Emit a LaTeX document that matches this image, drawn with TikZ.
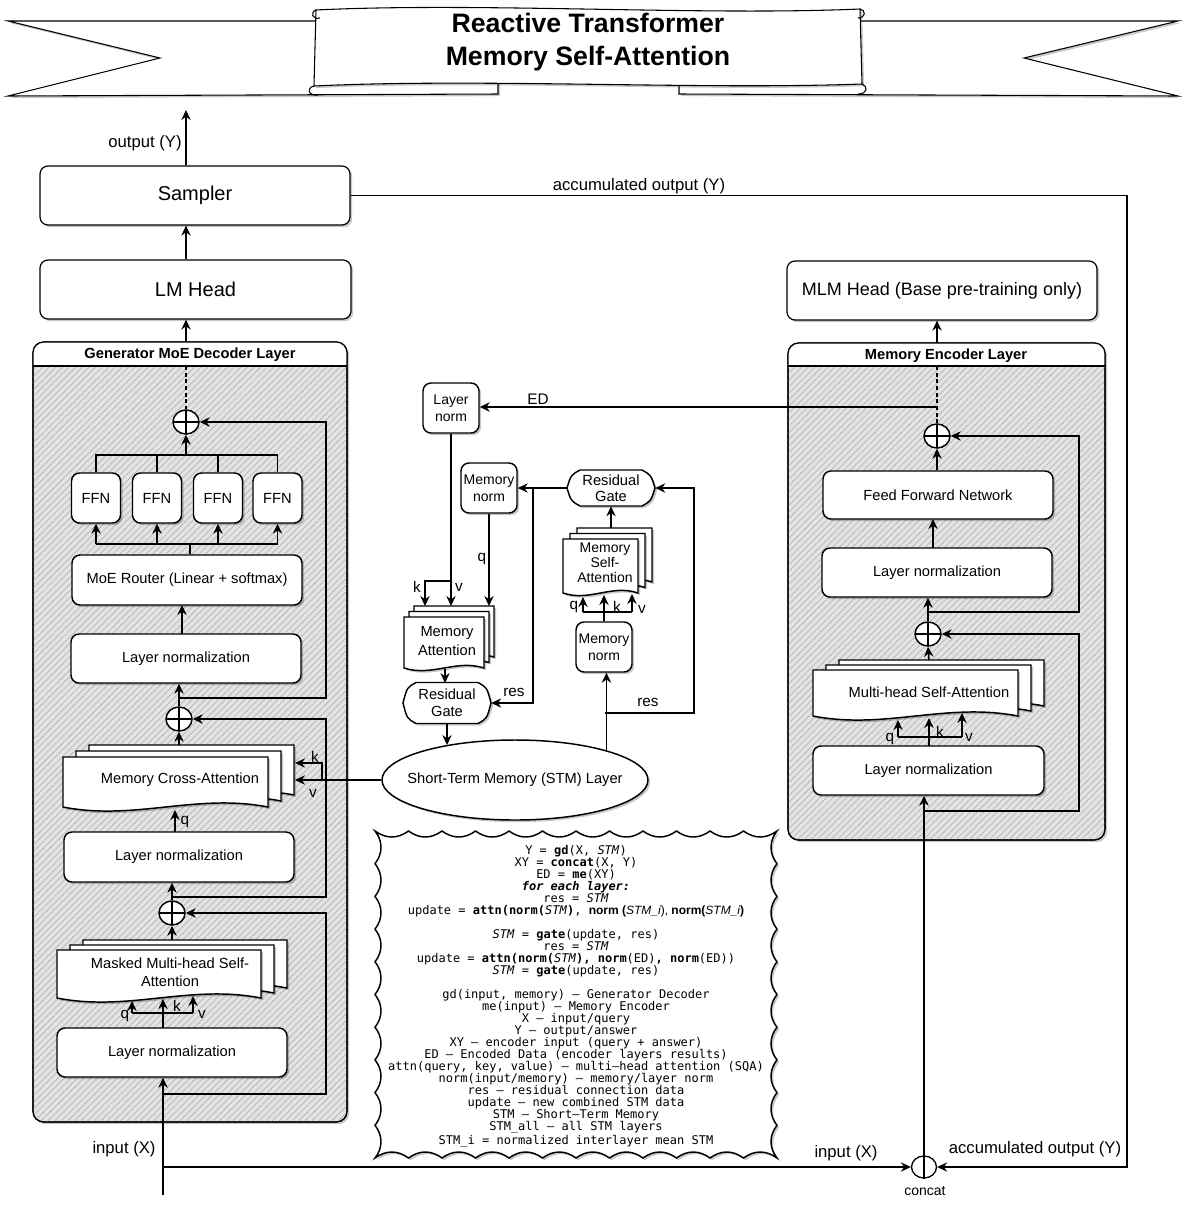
\documentclass[tikz,border=0pt]{standalone}
\usepackage{fontspec}
\setmainfont{Liberation Sans}
\setsansfont{Liberation Sans}
\setmonofont{DejaVu Sans Mono}
\usetikzlibrary{arrows.meta,calc,shapes.geometric,shadows,patterns.meta,decorations.pathmorphing}

\newcommand\docstack[7]{%
  \foreach \kk in {2,1,0}{%
    \filldraw[docst] ({#1+\kk*(#5)},{#2+\kk*(#6)}) -- ({#3+\kk*(#5)},{#2+\kk*(#6)}) -- ({#3+\kk*(#5)},{#4+\kk*(#6)})
      .. controls ({#1+0.65*(#3-#1)+\kk*(#5)},{#4+\kk*(#6)-#7}) and ({#1+0.35*(#3-#1)+\kk*(#5)},{#4+\kk*(#6)+#7}) .. ({#1+\kk*(#5)},{#4+\kk*(#6)}) -- cycle;
  }}
\newcommand\gatepath[4]{%
  \filldraw[docst] ({#1-#3},{#2}) .. controls ({#1-#3+4},{#2-#4+5}) .. ({#1-#3+13},{#2-#4}) -- ({#1+#3-13},{#2-#4}) .. controls ({#1+#3-4},{#2-#4+5}) .. ({#1+#3},{#2}) .. controls ({#1+#3-4},{#2+#4-5}) .. ({#1+#3-13},{#2+#4}) -- ({#1-#3+13},{#2+#4}) .. controls ({#1-#3+4},{#2+#4-5}) .. ({#1-#3},{#2}) -- cycle;}

\begin{document}
\begin{tikzpicture}[x=0.75pt,y=-0.75pt,
  lw/.style={line width=1.1pt},
  arr/.style={line width=1.1pt,-{Stealth[length=7.5pt,width=7pt,inset=2.5pt]}},
  thinarr/.style={line width=0.9pt,-{Stealth[length=7.5pt,width=7pt,inset=2.5pt]}},
  shd/.style={drop shadow={shadow xshift=1.6pt,shadow yshift=-1.6pt,opacity=0.22,fill=black}},
  wh/.style 2 args={minimum width=#1*0.75pt,minimum height=#2*0.75pt},
  blk/.style={draw,line width=1.1pt,fill=white,rounded corners=6pt,inner sep=0pt,align=center,font=\fontsize{11}{13.5}\selectfont,shd},
  bigblk/.style={blk,line width=0.9pt,font=\fontsize{15}{18}\selectfont},
  smallblk/.style={blk,font=\fontsize{10.5}{13}\selectfont},
  plus/.style={draw,ellipse,line width=1.1pt,fill=white,inner sep=0pt,minimum width=19.5pt,minimum height=18pt,
    path picture={\draw[line width=1.1pt] (path picture bounding box.north) -- (path picture bounding box.south) (path picture bounding box.west) -- (path picture bounding box.east);}},
  lbl/.style={font=\fontsize{11.5}{13}\selectfont,inner sep=1pt},
  olbl/.style={font=\fontsize{12.5}{14}\selectfont,inner sep=1pt},
  doctxt/.style={font=\fontsize{11}{13.5}\selectfont,align=center,inner sep=0pt},
  docst/.style={draw,line width=1.1pt,fill=white,shd},
  cont/.style={draw,line width=0.9pt,rounded corners=8pt,fill=gray!22,postaction={pattern color=gray!60,pattern={Lines[angle=45,distance=3.5pt,line width=0.5pt]}},shd},
  hdr/.style={font=\fontsize{11}{13}\selectfont\bfseries,inner sep=0pt},
]
\useasboundingbox (0,0) rectangle (1186,1215);

% ---------------- title ribbon
\begin{scope}[line width=0.8pt]
\filldraw[fill=white,shd] (8,21) -- (330,21) -- (330,81) -- (498,81) -- (498,94) -- (8,96) -- (160,58) -- cycle;
\filldraw[fill=white,shd] (1178,21) -- (856,21) -- (856,81) -- (679,81) -- (679,94) -- (1178,96) -- (1024,58) -- cycle;
\filldraw[fill=white,shd] (316,10) .. controls (480,2) and (700,16) .. (860,9) -- (862,84) .. controls (700,90) and (480,78) .. (314,86) -- cycle;
\draw (316,10) .. controls (310,12) and (312,20) .. (320,18);
\draw (860,9) .. controls (866,10) and (866,18) .. (858,18);
\draw (314,86) .. controls (306,88) and (308,96) .. (318,95);
\draw (862,84) .. controls (868,86) and (868,94) .. (858,94);
\end{scope}
\node[font=\fontsize{20}{24.75}\selectfont\bfseries,align=center] (title) at (588,42) {Reactive Transformer\\Memory Self-Attention};

% ---------------- left column top
\node[bigblk,wh={310}{59}] (sampler) at (195,195.5) {Sampler};
\node[bigblk,wh={311}{59}] (lmh) at (195.5,289.5) {LM Head};
\coordinate (outtop) at (186,110);
\draw[arr] (sampler.north -| outtop) -- (outtop);
\node[olbl] (outlbl) at (145,143) {output (Y)};
\draw[arr] (lmh.north -| outtop) -- (sampler.south -| outtop);

% ---------------- decoder container
\node[cont,wh={314}{780}] (dec) at (190,732) {};
\begin{scope}
\clip (33,342) rectangle (347,366);
\fill[white,rounded corners=8pt] (33,342) rectangle (347,1122);
\end{scope}
\draw[line width=0.9pt,rounded corners=8pt] (33,342) rectangle (347,1122);
\draw[line width=0.9pt] (33,366) -- (347,366);
\node[hdr] (dech) at (190,355) {Generator MoE Decoder Layer};
\draw[arr] (dec.north -| outtop) -- (lmh.south -| outtop);

% decoder blocks
\node[plus] (plus1) at (186,422) {};
\node[blk,wh={49}{50}] (ffn1) at (96,498) {FFN};
\node[blk,wh={49}{50}] (ffn2) at (157,498) {FFN};
\node[blk,wh={49}{50}] (ffn3) at (218,498) {FFN};
\node[blk,wh={49}{50}] (ffn4) at (277.5,498) {FFN};
\node[blk,wh={230}{50}] (router) at (187,580) {MoE Router (Linear + softmax)};
\node[blk,wh={230}{49}] (ln1) at (186,658.5) {Layer normalization};
\node[plus] (plus2) at (179,719) {};
\docstack{63}{757}{268}{807}{13}{-6}{14}
\node[doctxt] (mca) at (180,780) {Memory Cross-Attention};
\node[blk,wh={230}{50}] (ln2) at (179,857) {Layer normalization};
\node[plus] (plus3) at (172,913) {};
\docstack{57}{950}{261}{998}{13}{-5}{14}
\node[doctxt] (mmsa) at (170,972) {Masked Multi-head Self-\\Attention};
\node[blk,wh={230}{49}] (ln3) at (172,1052.5) {Layer normalization};

% decoder connectors
\coordinate (rx) at (326,0);
\coordinate (inbot) at (163,1195);
\draw[arr] (inbot) -- (inbot |- ln3.south);
\draw[arr] (163,1028) -- (163,999);
\draw[lw] (132,1013) -- (193,1013);
\draw[arr] (132,1013) -- (132,1001);
\draw[arr] (193,1013) -- (193,996);
\node[lbl] (q3) at (125,1016) {q};
\node[lbl] (k3) at (177,1006) {k};
\node[lbl] (v3) at (202,1014) {v};
\draw[arr] (172,940) -- (plus3.south);
\coordinate (res3) at (163,1094);
\draw[arr] (res3) -| (rx |- plus3) -- (plus3.east);
\draw[arr] (plus3.north) -- (plus3.north |- ln2.south);
\draw[arr] (175,832) -- (175,810);
\node[lbl] (q2) at (185,822) {q};
\draw[arr] (179,745) -- (plus2.south);
\coordinate (res2) at (172,897);
\draw[arr] (res2) -| (rx |- plus2) -- (plus2.east);
\draw[arr] (plus2.north) -- (plus2.north |- ln1.south);
\coordinate (res1) at (179,698);
\draw[arr] (res1) -| (rx |- plus1) -- (plus1.east);
\draw[arr] (182,634) -- (182,605);
\coordinate (rt) at (190,544);
\draw[lw] (router.north -| rt) -- (rt);
\draw[lw] (ffn1.south |- rt) -- (ffn4.south |- rt);
\foreach \f in {1,2,3,4} \draw[arr] (ffn\f.south |- rt) -- (ffn\f.south);
\coordinate (ft) at (186,455);
\draw[lw] (ffn1.north) -- (ffn1.north |- ft) -- (ffn4.north |- ft) -- (ffn4.north);
\draw[lw] (ffn2.north) -- (ffn2.north |- ft);
\draw[lw] (ffn3.north) -- (ffn3.north |- ft);
\draw[arr] (ft) -- (plus1.south);
\draw[line width=0.8pt,densely dashed] (186,366) -- (plus1.north);

% ---------------- encoder
\node[bigblk,wh={310}{59},font=\fontsize{13.5}{16}\selectfont] (mlm) at (942,290.5) {MLM Head (Base pre-training only)};
\node[cont,wh={317}{497}] (enc) at (946.5,591.5) {};
\begin{scope}
\clip (788,343) rectangle (1105,366);
\fill[white,rounded corners=8pt] (788,343) rectangle (1105,840);
\end{scope}
\draw[line width=0.9pt,rounded corners=8pt] (788,343) rectangle (1105,840);
\draw[line width=0.9pt] (788,366) -- (1105,366);
\node[hdr] (ench) at (946,356) {Memory Encoder Layer};
\coordinate (es) at (937,366);
\draw[arr] (937,343) -- (mlm.south -| es);

\node[plus] (pluse1) at (937,436) {};
\node[blk,wh={230}{48}] (ffne) at (938,495) {Feed Forward Network};
\node[blk,wh={230}{49}] (lne1) at (937,572.5) {Layer normalization};
\node[plus] (pluse2) at (928,634) {};
\docstack{813}{670}{1018}{716}{13}{-5}{14}
\node[doctxt] (mhsa) at (929,692) {Multi-head Self-Attention};
\node[blk,wh={231}{49}] (lne2) at (928.5,770.5) {Layer normalization};

\coordinate (rex) at (1079,0);
\draw[line width=0.8pt,densely dashed] (es) -- (pluse1.north);
\draw[arr] (ffne.north -| es) -- (pluse1.south);
\draw[arr] (933,548) -- (933,519);
\draw[arr] (pluse2.north) -- (pluse2.north |- lne1.south);
\coordinate (rese1) at (929,612);
\draw[arr] (rese1) -| (rex |- pluse1) -- (pluse1.east);
\draw[arr] (929,660) -- (pluse2.south);
\draw[arr] (929,746) -- (929,718);
\draw[lw] (898,737) -- (962,737);
\draw[arr] (898,737) -- (898,720);
\draw[arr] (962,737) -- (962,713);
\node[lbl] (qe) at (890,739) {q};
\node[lbl] (ke) at (940,732) {k};
\node[lbl] (ve) at (969,737) {v};
\coordinate (rese2) at (925,811);
\draw[arr] (rese2) -| (rex |- pluse2) -- (pluse2.east);

% ---------------- centre: memory attention
\node[smallblk,wh={56}{50}] (lns) at (451,408) {Layer\\norm};
\node[smallblk,wh={56}{50}] (mn1) at (489,488) {Memory\\norm};
\gatepath{611}{488}{44}{18}
\node[doctxt,wh={88}{36},font=\fontsize{11}{12}\selectfont] (gate2) at (611,488) {Residual\\Gate};
\docstack{563}{539}{638}{593}{7}{-5.5}{9}
\node[doctxt,font=\fontsize{10.5}{11.3}\selectfont] (msa) at (605,563) {Memory\\Self-\\Attention};
\node[smallblk,wh={56}{50}] (mn2) at (604,647) {Memory\\norm};
\docstack{404}{617}{484}{668}{5}{-5.5}{9}
\node[doctxt,font=\fontsize{11}{14}\selectfont] (ma) at (447,641) {Memory\\Attention};
\gatepath{447}{703}{44}{20.5}
\node[doctxt,wh={88}{41},font=\fontsize{11}{13}\selectfont] (gate1) at (447,703) {Residual\\Gate};
\node[draw,ellipse,line width=1.1pt,fill=white,inner ysep=0pt,inner xsep=-20pt,wh={266}{80},shd,font=\fontsize{11}{13}\selectfont] (stm) at (515,780) {Short-Term Memory (STM) Layer};

\coordinate (edp) at (937,407);
\draw[arr] (edp) -- (edp -| lns.east);
\node[lbl] (edlbl) at (538,399) {ED};
\coordinate (kvp) at (451,581);
\draw[lw] (lns.south) -- (kvp);
\draw[arr] (kvp) -- (451,606);
\draw[arr] (kvp) -| (425,606);
\node[lbl] (kma) at (417,587) {k};
\node[lbl] (vma) at (459,587) {v};
\draw[arr] (mn1.south) -- (489,606);
\node[lbl] (qma) at (482,559) {q};
\draw[arr] (gate2.west) -- (mn1.east);
\draw[arr] (533,488) |- (gate1.east);
\node[lbl] (res1lbl) at (514,692) {res};
\draw[arr] (445,669) -- (445,683);
\draw[arr] (gate1.south) -- (gate1.south |- stm.153);
\draw[arr] (611,528) -- (gate2.south);
\draw[arr] (mn2.north) -- (604,595);
\draw[lw] (583,612) -- (632,612);
\draw[arr] (583,612) -- (583,597);
\draw[arr] (632,612) -- (632,594);
\node[lbl] (qmsa) at (574,607) {q};
\node[lbl] (kmsa) at (617,607) {k};
\node[lbl] (vmsa) at (642,609) {v};
\draw[arr] (stm.18) -- (stm.18 |- mn2.south);
\coordinate (res2s) at (605,713);
\draw[arr] (res2s) -| (694,488) -- (gate2.east);
\node[lbl] (res2lbl) at (648,702) {res};

% STM -> memory cross-attention
\coordinate (kv) at (322,780);
\coordinate (mcar) at (295,780);
\draw[arr] (stm.west) -- (stm.west -| mcar);
\draw[arr] (kv) |- (295,763);
\node[lbl] (kmca) at (315,757) {k};
\node[lbl] (vmca) at (313,793) {v};

% ---------------- code box (scalloped border)
\filldraw[fill=white,line width=1.1pt,shd] (375,831)
  \foreach \i in {1,...,12} { .. controls +(11,8) and +(-11,8) .. ++(33.5,0) }
  \foreach \i in {1,...,10} { .. controls +(-8,10) and +(-8,-10) .. ++(0,32.7) }
  \foreach \i in {1,...,12} { .. controls +(-11,-8) and +(11,-8) .. ++(-33.5,0) }
  \foreach \i in {1,...,10} { .. controls +(8,-10) and +(8,10) .. ++(0,-32.7) } -- cycle;
\node[align=center,inner sep=0pt,font=\ttfamily\fontsize{9}{9}\selectfont] (code) at (576,996.5) {%
Y = \textbf{gd}(X, \textit{STM})\\
XY = \textbf{concat}(X, Y)\\
ED = \textbf{me}(XY)\\
\textbf{\textit{for each layer:}}\\
res = \textit{STM}\\
update = \textbf{attn(norm(}\textit{STM}\textbf{)}, {\sffamily\bfseries norm (\mdseries\itshape STM\_i\upshape), \bfseries norm(\mdseries\itshape STM\_i\upshape\bfseries)}\\
\mbox{}\\
\textit{STM} = \textbf{gate}(update, res)\\
res = \textit{STM}\\
update = \textbf{attn(norm(}\textit{STM}\textbf{), norm}(ED)\textbf{, norm}(ED))\\
\textit{STM} = \textbf{gate}(update, res)\\
\mbox{}\\
gd(input, memory) – Generator Decoder\\
me(input) – Memory Encoder\\
X – input/query\\
Y – output/answer\\
XY – encoder input (query + answer)\\
ED – Encoded Data (encoder layers results)\\
attn(query, key, value) – multi–head attention (SQA)\\
norm(input/memory) – memory/layer norm\\
res – residual connection data\\
update – new combined STM data\\
STM – Short–Term Memory\\
STM\_all – all STM layers\\
STM\_i = normalized interlayer mean STM};

% ---------------- bottom: input / concat / accumulated output
\node[draw,ellipse,line width=1pt,fill=white,inner sep=0pt,wh={25}{22}] (concat) at (924,1167) {};
\node[font=\fontsize{10.5}{12}\selectfont] (concatlbl) at (925,1191) {concat};
\draw[thinarr] (inbot |- concat.west) -- (concat.west);
\draw[arr] (concat.south) -- (concat.south |- lne2.south);
\coordinate (accr) at (1127,1167);
\draw[thinarr] (sampler.east) -| (accr) -- (concat.east);
\node[olbl] (acc1) at (639,186) {accumulated output (Y)};
\node[olbl] (acc2) at (1035,1149) {accumulated output (Y)};
\node[olbl] (in1) at (124,1149) {input (X)};
\node[olbl] (in2) at (846,1153) {input (X)};
\end{tikzpicture}
\end{document}
